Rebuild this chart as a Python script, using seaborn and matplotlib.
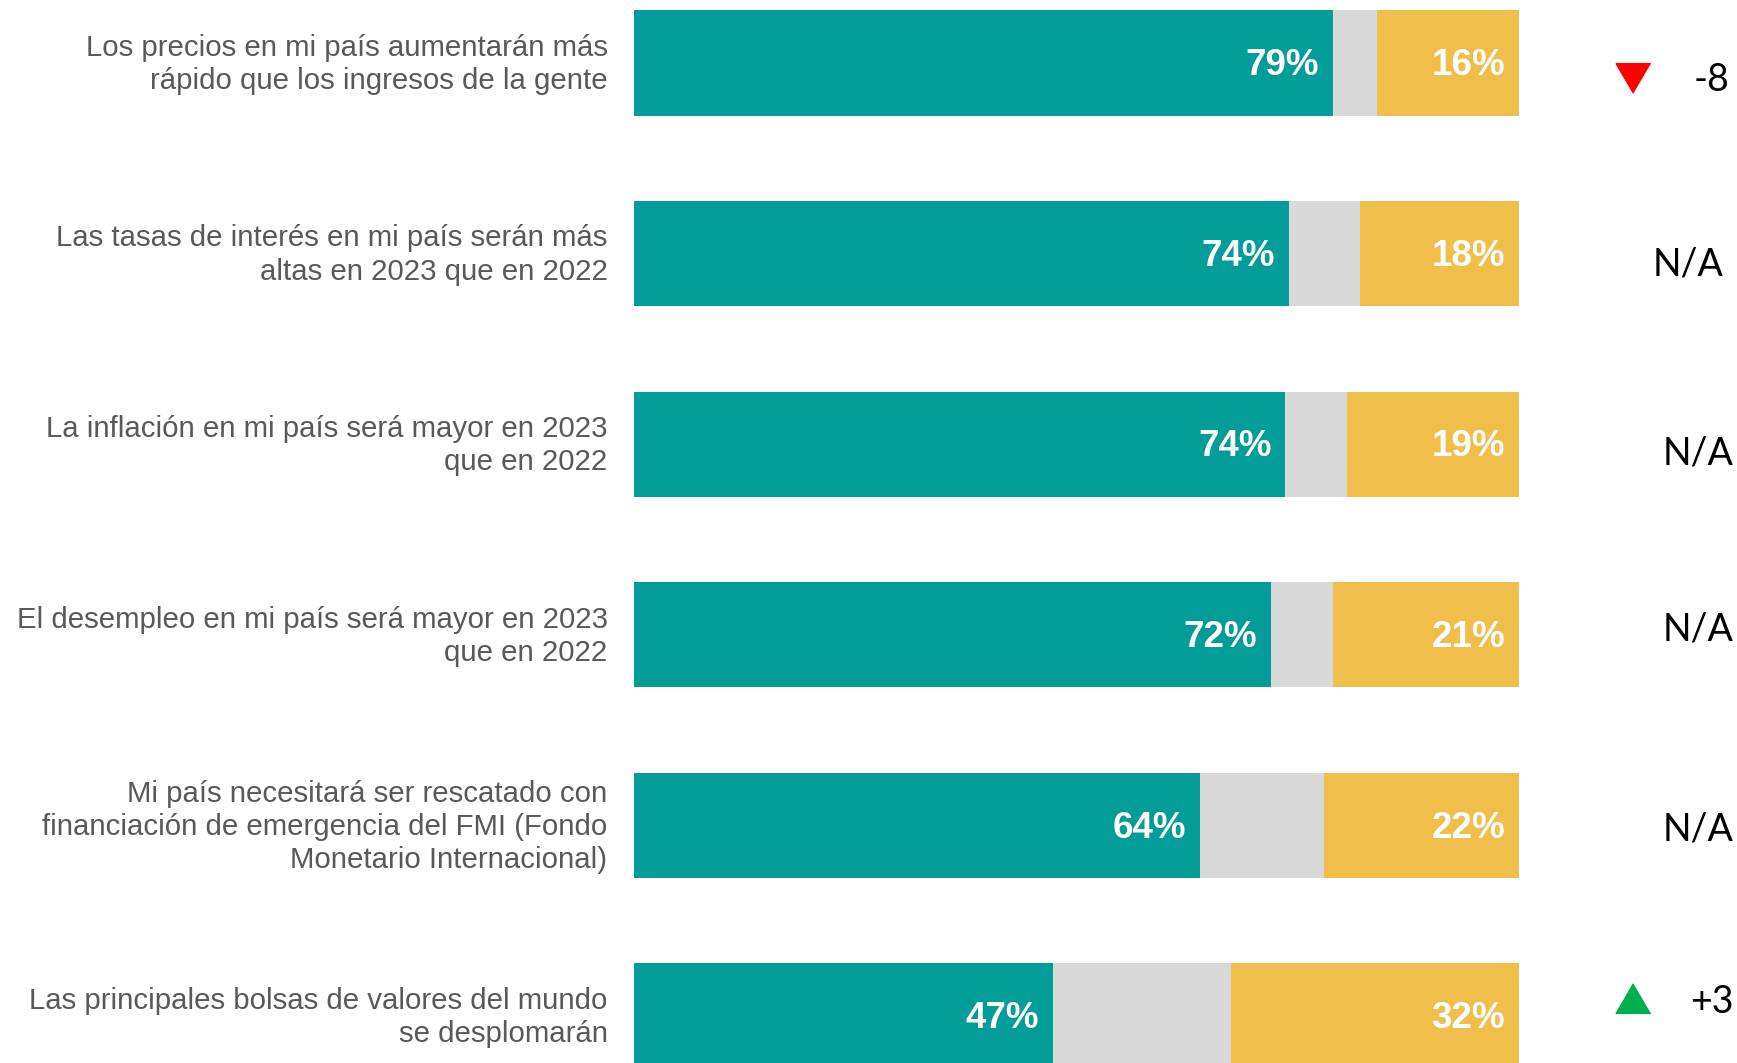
import matplotlib
matplotlib.use("Agg")
import matplotlib.pyplot as plt
import seaborn as sns
import pandas as pd
import numpy as np

# ---- data ----
statements = [
    "Los precios en mi país aumentarán más\nrápido que los ingresos de la gente",
    "Las tasas de interés en mi país serán más\naltas en 2023 que en 2022",
    "La inflación en mi país será mayor en 2023\nque en 2022",
    "El desempleo en mi país será mayor en 2023\nque en 2022",
    "Mi país necesitará ser rescatado con\nfinanciación de emergencia del FMI (Fondo\nMonetario Internacional)",
    "Las principales bolsas de valores del mundo\nse desplomarán",
]
agree = [79, 74, 73.6, 72, 64, 47.3]
neutral = [5, 8, 7, 7, 14, 20.2]
disagree = [16, 18, 19.4, 21, 22, 32.5]
agree_labels = ["79%", "74%", "74%", "72%", "64%", "47%"]
disagree_labels = ["16%", "18%", "19%", "21%", "22%", "32%"]
change_labels = ["-8", "N/A", "N/A", "N/A", "N/A", "+3"]
change_dir = ["down", None, None, None, None, "up"]

# ---- style ----
TEAL = "#029C99"
GREY = "#D9D9D9"
YELLOW = "#F0BE4A"
LABEL_GREY = "#595959"

sns.set_theme(style="white")
plt.rcParams["font.family"] = ["Liberation Sans", "DejaVu Sans"]

df = pd.DataFrame({
    "statement": statements,
    "agree": agree,
    "neutral": neutral,
    "disagree": disagree,
})
df["cum_neutral"] = df["agree"] + df["neutral"]
df["cum_total"] = df["cum_neutral"] + df["disagree"]

fig = plt.figure(figsize=(17.37, 10.63), dpi=100)
ax = fig.add_axes([634 / 1737, 0, 885 / 1737, 1])

bw = 0.551
for col, c in [("cum_total", YELLOW), ("cum_neutral", GREY), ("agree", TEAL)]:
    sns.barplot(data=df, x=col, y="statement", orient="h", color=c,
                width=bw, saturation=1, linewidth=0, ax=ax)

ax.set_xlim(0, 100)
ax.set_ylim(5.2466, -0.3305)
ax.set_xlabel("")
ax.set_ylabel("")
ax.set_xticks([])
ax.set_yticklabels([])
ax.tick_params(axis="y", length=0)
for s in ax.spines.values():
    s.set_visible(False)

# category labels
for i, txt in enumerate(statements):
    ax.annotate(txt, xy=(0, i), xytext=(-19, -1), textcoords="offset points",
                ha="right", va="center", multialignment="right",
                fontsize=21.2, color=LABEL_GREY, linespacing=1.23,
                annotation_clip=False)

# value labels
for i in range(len(statements)):
    ax.annotate(agree_labels[i], xy=(agree[i], i), xytext=(-10, -2),
                textcoords="offset points", ha="right", va="center",
                color="white", fontsize=26.5, fontweight="bold")
    ax.annotate(disagree_labels[i], xy=(df['cum_total'][i], i), xytext=(-10, -2),
                textcoords="offset points", ha="right", va="center",
                color="white", fontsize=26.5, fontweight="bold")

# change column (layout nudges only)
y_nudge = [0.09, 0.055, 0.05, -0.03, 0.02, -0.075]
x_text = [121.8, 119.1, 120.2, 120.2, 120.2, 121.8]
tri_marker_nudge = [0.079, 0, 0, 0, 0, -0.094]
tri = [(0, 1), (-1.17, -1), (1.17, -1)]
tri_down = [(0, -1), (-1.17, 1), (1.17, 1)]
for i, (lab, d) in enumerate(zip(change_labels, change_dir)):
    ym = i + tri_marker_nudge[i]
    if d == "down":
        ax.plot([112.9], [ym], marker=tri_down, markersize=25, color="#FF0000",
                linestyle="none", clip_on=False)
    elif d == "up":
        ax.plot([112.9], [ym], marker=tri, markersize=25, color="#00B050",
                linestyle="none", clip_on=False)
    ax.text(x_text[i], i + y_nudge[i], lab, ha="center", va="center", fontsize=27,
            color="black", family=["Lato", "DejaVu Sans"], clip_on=False)

fig.savefig("out.png", dpi=100)
